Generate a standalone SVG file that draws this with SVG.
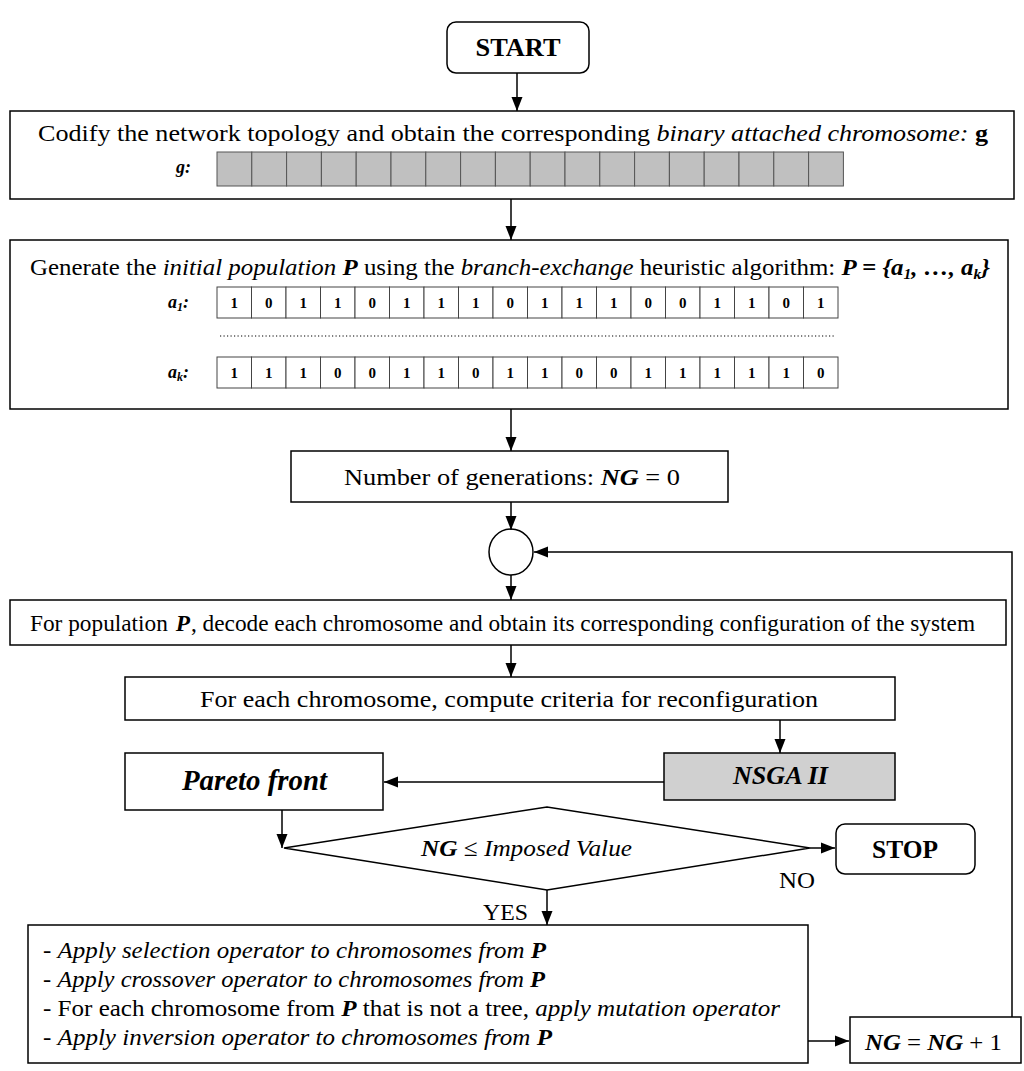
<svg xmlns="http://www.w3.org/2000/svg" width="1024" height="1071" viewBox="0 0 1024 1071">
<defs>
<marker id="ah" markerWidth="14" markerHeight="12" refX="14" refY="6" orient="auto" markerUnits="userSpaceOnUse">
<path d="M0,0.5 L14,6 L0,11.5 z" fill="#000"/>
</marker>
<style>
text{font-family:"Liberation Serif","Times New Roman",serif;fill:#000}
.box{fill:#fff;stroke:#000;stroke-width:1.5}
.gray{fill:#d0d0d0;stroke:#000;stroke-width:1.5}
.cg{fill:#c0c0c0;stroke:#555;stroke-width:1}
.cw{fill:#fff;stroke:#444;stroke-width:1}
.ln{fill:none;stroke:#000;stroke-width:1.5}
.t{font-size:24px}
.c{text-anchor:middle}
.b{font-weight:bold}
.i{font-style:italic}
.d{font-size:15px;font-weight:bold;text-anchor:middle}
</style>
</defs>
<rect width="1024" height="1071" fill="#fff"/>
<g id="connectors">
<line class="ln" x1="517" y1="73" x2="517" y2="111" marker-end="url(#ah)"/>
<line class="ln" x1="511" y1="199" x2="511" y2="240" marker-end="url(#ah)"/>
<line class="ln" x1="511" y1="409" x2="511" y2="451" marker-end="url(#ah)"/>
<line class="ln" x1="511" y1="502" x2="511" y2="530" marker-end="url(#ah)"/>
<line class="ln" x1="511" y1="575" x2="511" y2="600" marker-end="url(#ah)"/>
<line class="ln" x1="511" y1="645" x2="511" y2="677" marker-end="url(#ah)"/>
<line class="ln" x1="780" y1="720" x2="780" y2="753" marker-end="url(#ah)"/>
<line class="ln" x1="664" y1="782" x2="384" y2="782" marker-end="url(#ah)"/>
<line class="ln" x1="282" y1="810" x2="282" y2="848" marker-end="url(#ah)"/>
<line class="ln" x1="810" y1="848" x2="835" y2="848" marker-end="url(#ah)"/>
<line class="ln" x1="547" y1="890" x2="547" y2="925" marker-end="url(#ah)"/>
<line class="ln" x1="808" y1="1041" x2="849" y2="1041" marker-end="url(#ah)"/>
<polyline class="ln" points="1012,1017 1012,552 534,552" marker-end="url(#ah)"/>
</g>
<g id="start">
<rect class="box" x="447" y="22" width="142" height="51" rx="9"/>
<text class="b c" x="518" y="56" font-size="25" textLength="85" lengthAdjust="spacingAndGlyphs">START</text>
</g>
<g id="codify">
<rect class="box" x="10" y="111" width="1004" height="88"/>
<text class="t" x="38" y="141" textLength="950" lengthAdjust="spacingAndGlyphs">Codify the network topology and obtain the corresponding <tspan class="i">binary attached chromosome:</tspan> <tspan class="b">g</tspan></text>
<text class="i b" x="176" y="173" font-size="18">g:</text>
<g id="gcells">
<rect class="cg" x="217" y="152" width="34.8" height="34"/>
<rect class="cg" x="251.8" y="152" width="34.8" height="34"/>
<rect class="cg" x="286.6" y="152" width="34.8" height="34"/>
<rect class="cg" x="321.4" y="152" width="34.8" height="34"/>
<rect class="cg" x="356.2" y="152" width="34.8" height="34"/>
<rect class="cg" x="391" y="152" width="34.8" height="34"/>
<rect class="cg" x="425.8" y="152" width="34.8" height="34"/>
<rect class="cg" x="460.6" y="152" width="34.8" height="34"/>
<rect class="cg" x="495.4" y="152" width="34.8" height="34"/>
<rect class="cg" x="530.2" y="152" width="34.8" height="34"/>
<rect class="cg" x="565" y="152" width="34.8" height="34"/>
<rect class="cg" x="599.8" y="152" width="34.8" height="34"/>
<rect class="cg" x="634.6" y="152" width="34.8" height="34"/>
<rect class="cg" x="669.4" y="152" width="34.8" height="34"/>
<rect class="cg" x="704.2" y="152" width="34.8" height="34"/>
<rect class="cg" x="739" y="152" width="34.8" height="34"/>
<rect class="cg" x="773.8" y="152" width="34.8" height="34"/>
<rect class="cg" x="808.6" y="152" width="34.8" height="34"/>
</g>
</g>
<g id="generate">
<rect class="box" x="10" y="240" width="998" height="169"/>
<text class="t" x="30" y="275" textLength="960" lengthAdjust="spacingAndGlyphs">Generate the <tspan class="i">initial population</tspan> <tspan class="i b">P</tspan> using the <tspan class="i">branch-exchange</tspan> heuristic algorithm: <tspan class="i b">P = {a<tspan font-size="15" dy="4">1</tspan><tspan dy="-4">, …, a</tspan><tspan font-size="15" dy="4">k</tspan><tspan dy="-4">}</tspan></tspan></text>
<text class="i b" x="168" y="308" font-size="18">a<tspan font-size="12" dy="3">1</tspan><tspan dy="-3">:</tspan></text>
<text class="i b" x="168" y="378" font-size="18">a<tspan font-size="12" dy="3">k</tspan><tspan dy="-3">:</tspan></text>
<g id="a1row">
<rect class="cw" x="217" y="287" width="34.5" height="31"/><text class="d" x="234.2" y="308">1</text>
<rect class="cw" x="251.5" y="287" width="34.5" height="31"/><text class="d" x="268.7" y="308">0</text>
<rect class="cw" x="286" y="287" width="34.5" height="31"/><text class="d" x="303.2" y="308">1</text>
<rect class="cw" x="320.5" y="287" width="34.5" height="31"/><text class="d" x="337.7" y="308">1</text>
<rect class="cw" x="355" y="287" width="34.5" height="31"/><text class="d" x="372.2" y="308">0</text>
<rect class="cw" x="389.5" y="287" width="34.5" height="31"/><text class="d" x="406.7" y="308">1</text>
<rect class="cw" x="424" y="287" width="34.5" height="31"/><text class="d" x="441.2" y="308">1</text>
<rect class="cw" x="458.5" y="287" width="34.5" height="31"/><text class="d" x="475.7" y="308">1</text>
<rect class="cw" x="493" y="287" width="34.5" height="31"/><text class="d" x="510.2" y="308">0</text>
<rect class="cw" x="527.5" y="287" width="34.5" height="31"/><text class="d" x="544.7" y="308">1</text>
<rect class="cw" x="562" y="287" width="34.5" height="31"/><text class="d" x="579.2" y="308">1</text>
<rect class="cw" x="596.5" y="287" width="34.5" height="31"/><text class="d" x="613.7" y="308">1</text>
<rect class="cw" x="631" y="287" width="34.5" height="31"/><text class="d" x="648.2" y="308">0</text>
<rect class="cw" x="665.5" y="287" width="34.5" height="31"/><text class="d" x="682.7" y="308">0</text>
<rect class="cw" x="700" y="287" width="34.5" height="31"/><text class="d" x="717.2" y="308">1</text>
<rect class="cw" x="734.5" y="287" width="34.5" height="31"/><text class="d" x="751.7" y="308">1</text>
<rect class="cw" x="769" y="287" width="34.5" height="31"/><text class="d" x="786.2" y="308">0</text>
<rect class="cw" x="803.5" y="287" width="34.5" height="31"/><text class="d" x="820.7" y="308">1</text>
</g>
<line x1="220" y1="336" x2="836" y2="336" stroke="#000" stroke-width="1.2" stroke-dasharray="1.2,2.3"/>
<g id="akrow">
<rect class="cw" x="217" y="357" width="34.5" height="31"/><text class="d" x="234.2" y="378">1</text>
<rect class="cw" x="251.5" y="357" width="34.5" height="31"/><text class="d" x="268.7" y="378">1</text>
<rect class="cw" x="286" y="357" width="34.5" height="31"/><text class="d" x="303.2" y="378">1</text>
<rect class="cw" x="320.5" y="357" width="34.5" height="31"/><text class="d" x="337.7" y="378">0</text>
<rect class="cw" x="355" y="357" width="34.5" height="31"/><text class="d" x="372.2" y="378">0</text>
<rect class="cw" x="389.5" y="357" width="34.5" height="31"/><text class="d" x="406.7" y="378">1</text>
<rect class="cw" x="424" y="357" width="34.5" height="31"/><text class="d" x="441.2" y="378">1</text>
<rect class="cw" x="458.5" y="357" width="34.5" height="31"/><text class="d" x="475.7" y="378">0</text>
<rect class="cw" x="493" y="357" width="34.5" height="31"/><text class="d" x="510.2" y="378">1</text>
<rect class="cw" x="527.5" y="357" width="34.5" height="31"/><text class="d" x="544.7" y="378">1</text>
<rect class="cw" x="562" y="357" width="34.5" height="31"/><text class="d" x="579.2" y="378">0</text>
<rect class="cw" x="596.5" y="357" width="34.5" height="31"/><text class="d" x="613.7" y="378">0</text>
<rect class="cw" x="631" y="357" width="34.5" height="31"/><text class="d" x="648.2" y="378">1</text>
<rect class="cw" x="665.5" y="357" width="34.5" height="31"/><text class="d" x="682.7" y="378">1</text>
<rect class="cw" x="700" y="357" width="34.5" height="31"/><text class="d" x="717.2" y="378">1</text>
<rect class="cw" x="734.5" y="357" width="34.5" height="31"/><text class="d" x="751.7" y="378">1</text>
<rect class="cw" x="769" y="357" width="34.5" height="31"/><text class="d" x="786.2" y="378">1</text>
<rect class="cw" x="803.5" y="357" width="34.5" height="31"/><text class="d" x="820.7" y="378">0</text>
</g>
</g>
<g id="ng0">
<rect class="box" x="291" y="451" width="437" height="51"/>
<text class="t" x="344" y="485" textLength="336" lengthAdjust="spacingAndGlyphs">Number of generations: <tspan class="i b">NG</tspan> = 0</text>
</g>
<g id="junction">
<ellipse class="ln" cx="511" cy="552" rx="22" ry="23" fill="#fff"/>
</g>
<g id="decode">
<rect class="box" x="10" y="600" width="996" height="45"/>
<text x="30" y="631" font-size="23.3">For population <tspan class="i b" dx="2">P</tspan><tspan dx="1">, decode each chromosome and obtain its corresponding configuration of the system</tspan></text>
</g>
<g id="criteria">
<rect class="box" x="125" y="677" width="770" height="43"/>
<text class="t" x="200" y="707" textLength="618" lengthAdjust="spacingAndGlyphs">For each chromosome, compute criteria for reconfiguration</text>
</g>
<g id="nsga">
<rect class="gray" x="664" y="753" width="231" height="47"/>
<text class="i b" x="733" y="784" font-size="25" textLength="95" lengthAdjust="spacingAndGlyphs">NSGA II</text>
</g>
<g id="pareto">
<rect class="box" x="125" y="753" width="258" height="57"/>
<text class="i b" x="182" y="790" font-size="30" textLength="145" lengthAdjust="spacingAndGlyphs">Pareto front</text>
</g>
<g id="decision">
<polygon class="box" points="284,848 547,807 810,848 547,890"/>
<text class="t" x="421" y="856" textLength="211" lengthAdjust="spacingAndGlyphs"><tspan class="i b">NG</tspan> ≤ <tspan class="i">Imposed Value</tspan></text>
<text class="t" x="779" y="888" textLength="36" lengthAdjust="spacingAndGlyphs">NO</text>
<text class="t" x="483" y="920" textLength="45" lengthAdjust="spacingAndGlyphs">YES</text>
</g>
<g id="stop">
<rect class="box" x="836" y="824" width="139" height="50" rx="9"/>
<text class="b" x="872" y="858" font-size="25" textLength="66" lengthAdjust="spacingAndGlyphs">STOP</text>
</g>
<g id="operators">
<rect class="box" x="28" y="925" width="780" height="138"/>
<text class="t" x="43" y="958" textLength="503" lengthAdjust="spacingAndGlyphs">- <tspan class="i">Apply selection operator to chromosomes from</tspan> <tspan class="i b">P</tspan></text>
<text class="t" x="43" y="987" textLength="502" lengthAdjust="spacingAndGlyphs">- <tspan class="i">Apply crossover operator to chromosomes from</tspan> <tspan class="i b">P</tspan></text>
<text class="t" x="43" y="1016" textLength="737" lengthAdjust="spacingAndGlyphs">- For each chromosome from <tspan class="i b">P</tspan> that is not a tree, <tspan class="i">apply mutation operator</tspan></text>
<text class="t" x="43" y="1045" textLength="509" lengthAdjust="spacingAndGlyphs">- <tspan class="i">Apply inversion operator to chromosomes from</tspan> <tspan class="i b">P</tspan></text>
</g>
<g id="ngplus">
<rect class="box" x="850" y="1017" width="171" height="46"/>
<text class="t" x="865" y="1050" textLength="137" lengthAdjust="spacingAndGlyphs"><tspan class="i b">NG</tspan> = <tspan class="i b">NG</tspan> + 1</text>
</g>
</svg>
